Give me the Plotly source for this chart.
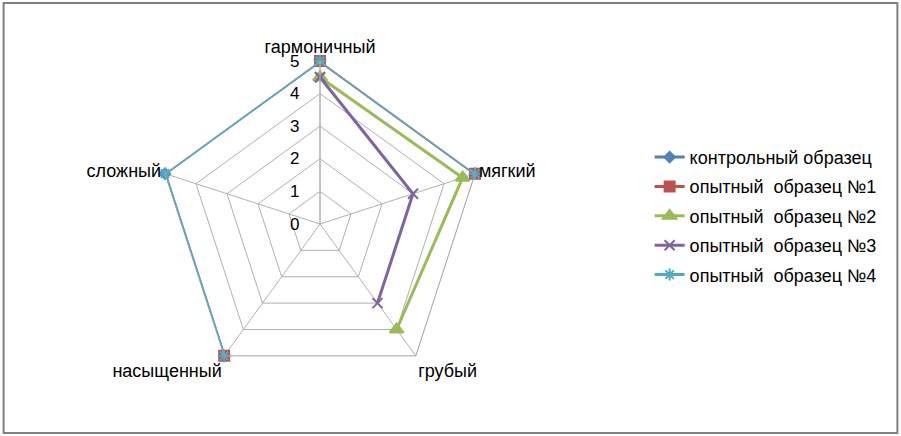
import plotly.graph_objects as go

categories = ["гармоничный", "мягкий", "грубый", "насыщенный", "сложный"]
series_names = ["контрольный образец", "опытный  образец №1", "опытный  образец №2",
                "опытный  образец №3", "опытный  образец №4"]
control = [5, 5, None, 5, 5]
sample1 = [5, 5, None, 5, None]
sample2 = [4.5, 4.6, 4.0, None, None]
sample3 = [4.5, 3.0, 3.0, None, None]
sample4 = [5, 5, None, 5, 5]
radial_ticks = [0, 1, 2, 3, 4, 5]

values = [control, sample1, sample2, sample3, sample4]
colors = ["#4F81BD", "#C0504D", "#9BBB59", "#8064A2", "#4BACC6"]
symbols = ["diamond", "square", "triangle-up", "x-thin-open", "asterisk-open"]
sizes = [8, 10, 12, 10, 10]

fig = go.Figure()
for i, (name, vals) in enumerate(zip(series_names, values)):
    r = list(vals) + [vals[0]]
    th = categories + [categories[0]]
    fig.add_trace(go.Scatterpolar(
        r=r, theta=th, name=name, mode="lines+markers",
        line=dict(color=colors[i], width=3),
        marker=dict(symbol=symbols[i], size=sizes[i], color=colors[i],
                    line=dict(color=colors[i], width=2)),
        legendgroup=f"g{i}", connectgaps=False,
    ))

W, H = 901, 436
cx, cy, R = 320, 224, 163
fig.update_layout(
    width=W, height=H,
    margin=dict(l=0, r=0, t=0, b=0),
    paper_bgcolor="white",
    font=dict(family="Liberation Sans, Arial, sans-serif", size=16, color="black"),
    polar=dict(
        domain=dict(x=[(cx - R) / W, (cx + R) / W], y=[(H - cy - R) / H, (H - cy + R) / H]),
        gridshape="linear",
        bgcolor="white",
        angularaxis=dict(
            categoryorder="array", categoryarray=categories,
            rotation=90, direction="clockwise",
            showline=True, linecolor="#A0A0A0", linewidth=1,
            gridcolor="#B0B0B0", gridwidth=1,
            ticks="", tickfont=dict(size=18, color="black"),
        ),
        radialaxis=dict(
            range=[0, 5], tickvals=radial_ticks,
            ticktext=[f"{t}\u00a0\u00a0\u00a0" for t in radial_ticks],
            angle=90, tickangle=90, side="counterclockwise", showline=True, linecolor="#B0B0B0",
            gridcolor="#B0B0B0", gridwidth=1, ticks="",
            tickfont=dict(size=17, color="black"),
        ),
    ),
    legend=dict(
        x=0.721, y=0.505, xanchor="left", yanchor="middle",
        font=dict(size=18, color="black"), tracegroupgap=3,
        bgcolor="rgba(0,0,0,0)",
    ),
    shapes=[dict(type="rect", xref="paper", yref="paper", x0=0.004, x1=0.996, y0=0.007, y1=0.993,
                 line=dict(color="#808080", width=2))],
)

fig.write_html("out.html", config={"displayModeBar": False},
               post_script="document.body.style.margin='0';")
